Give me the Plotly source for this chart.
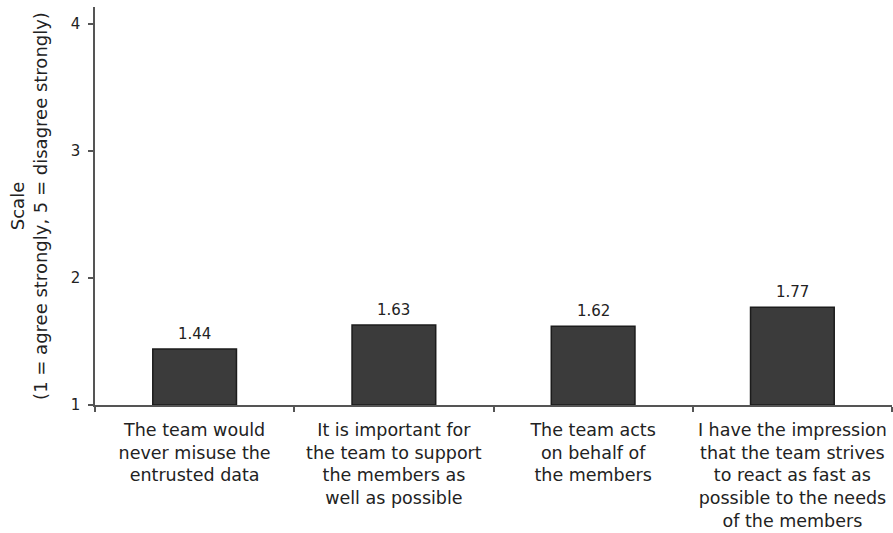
import plotly.graph_objects as go

categories = [
    "The team would<br>never misuse the<br>entrusted data",
    "It is important for<br>the team to support<br>the members as<br>well as possible",
    "The team acts<br>on behalf of<br>the members",
    "I have the impression<br>that the team strives<br>to react as fast as<br>possible to the needs<br>of the members",
]
values = [1.44, 1.63, 1.62, 1.77]
value_labels = ["1.44", "1.63", "1.62", "1.77"]
y_ticks = [1, 2, 3, 4]
baseline = 1

FONT = "DejaVu Sans"
TXT = "#222222"
AX = "#555555"

fig = go.Figure()
fig.add_trace(go.Bar(
    x=categories,
    y=[v - baseline for v in values],
    base=baseline,
    marker=dict(color="#3b3b3b", line=dict(color="#1c1c1c", width=1.5)),
    hoverinfo="skip",
))

for c, v, t in zip(categories, values, value_labels):
    fig.add_annotation(x=c, y=v, text=t, showarrow=False, yanchor="bottom",
                       yshift=4, font=dict(family=FONT, size=15, color=TXT))

fig.update_layout(
    width=893, height=533,
    margin=dict(l=95, r=1, t=7, b=128, autoexpand=False),
    paper_bgcolor="white", plot_bgcolor="white",
    bargap=0.58,
    showlegend=False,
    font=dict(family=FONT, color=TXT),
)
fig.update_xaxes(
    type="category", automargin=False,
    showline=True, linecolor=AX, linewidth=1.5,
    ticks="outside", tickson="boundaries", ticklen=5, tickcolor=AX, tickwidth=1.5,
    tickfont=dict(family=FONT, size=17.5, color=TXT),
    ticklabelstandoff=8,
    tickangle=0,
    showgrid=False, zeroline=False,
)
fig.update_yaxes(
    range=[1, 4.134], automargin=False,
    tickvals=y_ticks,
    ticktext=[str(v) for v in y_ticks],
    showline=True, linecolor=AX, linewidth=1.5,
    ticks="outside", ticklen=5, tickcolor=AX, tickwidth=1.5,
    tickfont=dict(family=FONT, size=15, color=TXT),
    ticklabelstandoff=5,
    showgrid=False, zeroline=False,
    title=dict(text="Scale<br>(1 = agree strongly, 5 = disagree strongly)",
               font=dict(family=FONT, size=18, color=TXT), standoff=18),
)

fig.write_html(
    "out.html",
    config={"displayModeBar": False},
    post_script="document.body.style.margin='0';document.body.style.padding='0';",
)
